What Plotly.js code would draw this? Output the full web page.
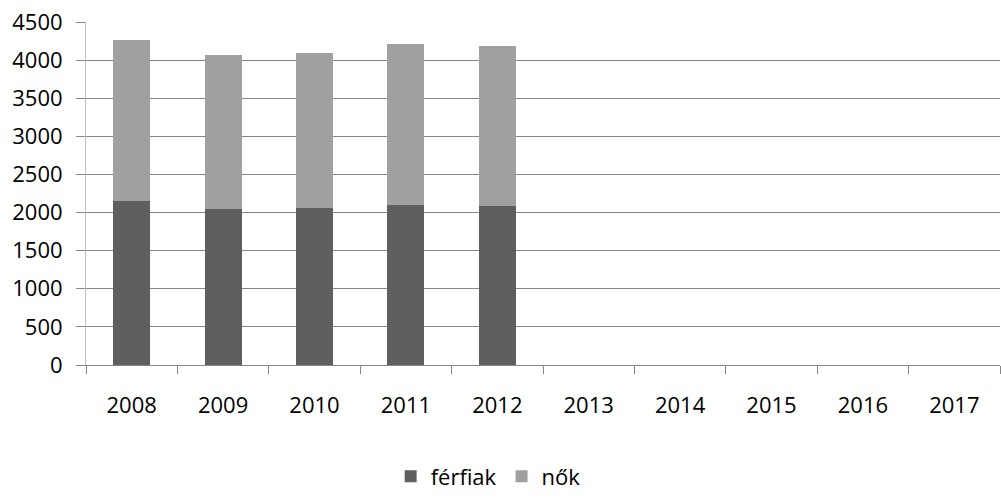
<!DOCTYPE html>
<html>
<head>
<meta charset="utf-8">
<script src="https://cdn.plot.ly/plotly-3.0.1.min.js"></script>
<style>html,body{margin:0;padding:0;background:#fff;}#chart{width:1001px;height:498px;}</style>
</head>
<body>
<div id="chart"></div>
<script>
const years = ['2008','2009','2010','2011','2012','2013','2014','2015','2016','2017'];
const ferfiak = [2150, 2050, 2060, 2100, 2090, null, null, null, null, null];
const nok = [2120, 2015, 2030, 2105, 2095, null, null, null, null, null];
const yTicks = [0,500,1000,1500,2000,2500,3000,3500,4000,4500];

const font = {family: '"Open Sans", "Noto Sans", sans-serif', size: 22, color: '#000'};

const traces = [
  {type: 'bar', name: 'férfiak', x: years, y: ferfiak, marker: {color: '#5f5f5f'}},
  {type: 'bar', name: 'nők', x: years, y: nok, marker: {color: '#a0a0a0'}}
];

const layout = {
  width: 1001, height: 498,
  margin: {l: 86, r: 1, t: 22, b: 128},
  barmode: 'stack',
  bargap: 0.595,
  paper_bgcolor: '#fff', plot_bgcolor: '#fff',
  font: font,
  showlegend: true,
  legend: {orientation: 'h', x: 0.44, xanchor: 'center', y: -0.325, yanchor: 'middle', font: font, traceorder: 'normal'},
  xaxis: {
    type: 'category', range: [-0.5, 9.5],
    showline: true, linecolor: '#868686', linewidth: 1,
    ticks: 'outside', tickson: 'boundaries', ticklen: 8, tickcolor: '#868686',
    showgrid: false, zeroline: false,
    tickfont: font, ticklabelstandoff: 21
  },
  yaxis: {
    range: [0, 4500], tickvals: yTicks, ticktext: yTicks.map(String),
    showline: true, linecolor: '#c0c0c0', linewidth: 1,
    ticks: 'outside', ticklen: 9, tickcolor: '#868686',
    showgrid: true, gridcolor: '#868686', gridwidth: 1,
    zeroline: false, tickfont: font, ticklabelstandoff: 9
  }
};

Plotly.newPlot('chart', traces, layout, {staticPlot: true, displayModeBar: false});
</script>
</body>
</html>
